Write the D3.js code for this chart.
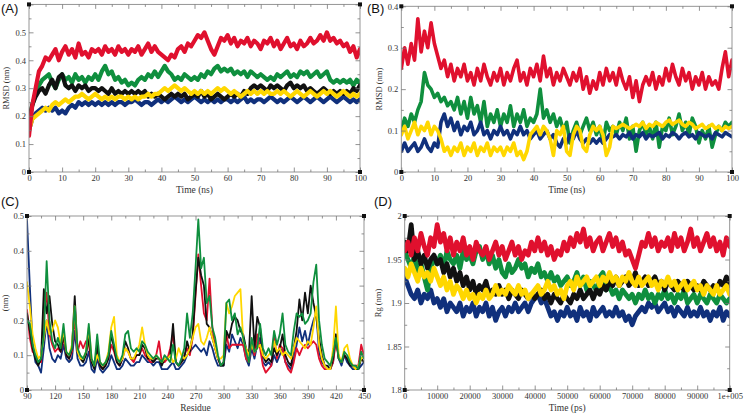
<!DOCTYPE html>
<html><head><meta charset="utf-8">
<script src="https://cdn.jsdelivr.net/npm/d3@7"></script>
<style>
body{margin:0;background:#fff;}
svg{display:block;}
.tk text{font-family:"Liberation Serif","DejaVu Serif",serif;font-size:8.5px;fill:#333;}
.tk path{display:none;}
.tk line{stroke:#777;stroke-width:0.8;}
</style></head>
<body><svg id="c" width="745" height="414"></svg>
<script>
// ---------- DATA ----------
const colors = {black:"#111111", red:"#e0102e", green:"#0f8f3e", blue:"#10307c", yellow:"#ffd700"};

// Panel A : RMSD (nm) vs time (ns), one value per ns 0..100
const timeA = d3.range(0, 101, 1);
const redA = [0.13,0.24,0.30,0.36,0.38,0.41,0.40,0.42,0.44,0.40,0.43,0.45,0.42,0.44,0.41,0.46,0.42,0.43,0.41,0.44,0.43,0.44,0.42,0.45,0.43,0.44,0.42,0.45,0.43,0.44,0.42,0.44,0.43,0.45,0.42,0.44,0.46,0.43,0.45,0.43,0.42,0.41,0.40,0.42,0.41,0.44,0.45,0.43,0.46,0.45,0.47,0.49,0.48,0.50,0.47,0.44,0.42,0.45,0.48,0.47,0.49,0.46,0.48,0.45,0.47,0.46,0.48,0.45,0.47,0.46,0.44,0.47,0.46,0.48,0.45,0.47,0.44,0.46,0.48,0.45,0.46,0.44,0.47,0.45,0.46,0.48,0.46,0.47,0.49,0.47,0.50,0.47,0.48,0.46,0.47,0.45,0.46,0.43,0.45,0.41,0.44];
const greenA = [0.18,0.24,0.28,0.31,0.33,0.34,0.35,0.32,0.30,0.33,0.35,0.33,0.34,0.32,0.35,0.33,0.34,0.32,0.34,0.33,0.35,0.33,0.36,0.38,0.35,0.36,0.33,0.34,0.32,0.33,0.31,0.32,0.31,0.33,0.34,0.33,0.35,0.34,0.36,0.34,0.36,0.38,0.36,0.35,0.33,0.34,0.33,0.35,0.34,0.33,0.34,0.33,0.35,0.34,0.36,0.35,0.37,0.38,0.36,0.37,0.36,0.37,0.35,0.36,0.35,0.36,0.34,0.36,0.35,0.34,0.35,0.34,0.33,0.34,0.33,0.35,0.34,0.35,0.36,0.34,0.35,0.34,0.36,0.35,0.36,0.34,0.35,0.36,0.34,0.35,0.36,0.33,0.32,0.33,0.32,0.33,0.32,0.33,0.31,0.33,0.32];
const blackA = [0.19,0.24,0.27,0.29,0.30,0.28,0.31,0.33,0.30,0.34,0.35,0.31,0.30,0.31,0.29,0.31,0.30,0.31,0.29,0.30,0.30,0.29,0.30,0.29,0.28,0.30,0.28,0.29,0.28,0.29,0.28,0.29,0.28,0.29,0.28,0.29,0.27,0.28,0.27,0.28,0.27,0.26,0.27,0.28,0.27,0.28,0.27,0.28,0.26,0.27,0.28,0.27,0.29,0.27,0.28,0.26,0.27,0.28,0.27,0.26,0.27,0.28,0.27,0.28,0.27,0.29,0.28,0.30,0.31,0.30,0.31,0.30,0.29,0.31,0.30,0.31,0.30,0.29,0.31,0.32,0.30,0.31,0.30,0.31,0.29,0.30,0.29,0.28,0.29,0.30,0.29,0.28,0.29,0.28,0.29,0.28,0.29,0.28,0.30,0.29,0.31];
const yellowA = [0.15,0.19,0.20,0.21,0.22,0.23,0.22,0.24,0.25,0.24,0.25,0.26,0.25,0.26,0.27,0.27,0.28,0.27,0.26,0.27,0.28,0.27,0.26,0.27,0.26,0.27,0.26,0.27,0.27,0.26,0.27,0.26,0.27,0.26,0.27,0.27,0.28,0.27,0.28,0.28,0.29,0.30,0.29,0.30,0.31,0.30,0.29,0.30,0.29,0.28,0.29,0.28,0.29,0.28,0.29,0.28,0.29,0.30,0.29,0.30,0.29,0.28,0.29,0.28,0.27,0.28,0.29,0.28,0.29,0.28,0.29,0.28,0.29,0.28,0.28,0.29,0.28,0.29,0.28,0.27,0.28,0.29,0.28,0.27,0.28,0.29,0.28,0.27,0.28,0.29,0.28,0.29,0.28,0.27,0.28,0.29,0.28,0.27,0.28,0.27,0.28];
const blueA = [0.15,0.19,0.21,0.22,0.23,0.22,0.23,0.22,0.23,0.21,0.22,0.21,0.23,0.24,0.23,0.25,0.24,0.25,0.24,0.25,0.24,0.25,0.24,0.25,0.24,0.25,0.24,0.25,0.25,0.24,0.25,0.25,0.26,0.25,0.24,0.25,0.25,0.24,0.25,0.26,0.25,0.26,0.25,0.26,0.27,0.26,0.25,0.26,0.25,0.26,0.27,0.26,0.25,0.26,0.25,0.26,0.25,0.26,0.25,0.26,0.26,0.25,0.26,0.25,0.26,0.27,0.25,0.26,0.25,0.26,0.26,0.25,0.26,0.27,0.26,0.25,0.26,0.25,0.26,0.27,0.26,0.25,0.26,0.27,0.26,0.25,0.26,0.27,0.26,0.25,0.26,0.27,0.26,0.25,0.26,0.27,0.26,0.25,0.26,0.25,0.26];

// Panel B : RMSD (nm) vs time (ns)
const timeB = d3.range(0, 101, 1);
const redB = [0.25,0.30,0.26,0.31,0.27,0.37,0.29,0.34,0.30,0.36,0.31,0.28,0.25,0.27,0.23,0.26,0.22,0.25,0.23,0.26,0.22,0.24,0.21,0.25,0.22,0.26,0.23,0.21,0.24,0.22,0.25,0.21,0.24,0.22,0.25,0.27,0.22,0.24,0.21,0.25,0.23,0.26,0.22,0.28,0.23,0.25,0.21,0.24,0.22,0.25,0.23,0.21,0.24,0.22,0.25,0.20,0.23,0.19,0.22,0.20,0.24,0.21,0.25,0.22,0.24,0.21,0.25,0.22,0.20,0.23,0.18,0.22,0.17,0.21,0.23,0.21,0.24,0.20,0.23,0.21,0.25,0.22,0.26,0.23,0.21,0.25,0.22,0.24,0.20,0.23,0.21,0.24,0.20,0.23,0.21,0.22,0.20,0.25,0.29,0.23,0.27];
const greenB = [0.10,0.13,0.11,0.14,0.12,0.15,0.17,0.24,0.21,0.20,0.18,0.19,0.17,0.18,0.16,0.17,0.15,0.18,0.14,0.17,0.13,0.18,0.14,0.16,0.12,0.17,0.11,0.14,0.12,0.15,0.11,0.14,0.12,0.16,0.11,0.14,0.12,0.15,0.11,0.13,0.12,0.14,0.20,0.13,0.15,0.12,0.14,0.11,0.13,0.10,0.12,0.07,0.10,0.12,0.09,0.11,0.13,0.10,0.12,0.09,0.11,0.07,0.12,0.10,0.11,0.09,0.12,0.10,0.13,0.08,0.11,0.05,0.10,0.12,0.09,0.11,0.08,0.12,0.06,0.11,0.10,0.13,0.09,0.11,0.14,0.10,0.12,0.09,0.13,0.11,0.07,0.10,0.08,0.11,0.06,0.09,0.11,0.10,0.12,0.11,0.12];
const blueB = [0.05,0.07,0.05,0.06,0.07,0.05,0.06,0.08,0.06,0.05,0.07,0.06,0.12,0.14,0.11,0.13,0.10,0.12,0.09,0.11,0.10,0.12,0.09,0.10,0.12,0.09,0.10,0.08,0.10,0.09,0.11,0.09,0.10,0.08,0.10,0.09,0.11,0.09,0.10,0.08,0.09,0.10,0.08,0.09,0.10,0.08,0.09,0.07,0.06,0.08,0.07,0.09,0.08,0.10,0.08,0.07,0.08,0.07,0.08,0.07,0.08,0.07,0.08,0.09,0.085,0.09,0.08,0.09,0.085,0.095,0.08,0.09,0.085,0.095,0.08,0.09,0.085,0.09,0.095,0.08,0.09,0.085,0.095,0.09,0.08,0.09,0.095,0.085,0.09,0.08,0.095,0.09,0.085,0.09,0.08,0.095,0.09,0.085,0.095,0.09,0.085];
const yellowB = [0.09,0.11,0.08,0.10,0.12,0.09,0.11,0.10,0.12,0.09,0.11,0.10,0.08,0.05,0.06,0.04,0.06,0.05,0.07,0.04,0.06,0.05,0.07,0.04,0.06,0.05,0.07,0.04,0.06,0.05,0.06,0.04,0.06,0.05,0.07,0.04,0.05,0.03,0.05,0.09,0.10,0.11,0.09,0.11,0.10,0.08,0.04,0.10,0.09,0.11,0.05,0.04,0.09,0.11,0.10,0.06,0.05,0.09,0.11,0.10,0.11,0.09,0.04,0.06,0.11,0.105,0.11,0.115,0.11,0.105,0.11,0.115,0.11,0.12,0.105,0.115,0.11,0.12,0.115,0.11,0.12,0.125,0.115,0.12,0.125,0.115,0.11,0.12,0.115,0.105,0.11,0.115,0.105,0.11,0.115,0.105,0.11,0.10,0.11,0.105,0.11];

// Panel C : RMSF (nm) per residue, every 3rd residue 90..450
const residues = d3.range(90, 451, 3);
const greenC = [0.20,0.19,0.13,0.10,0.08,0.09,0.16,0.37,0.20,0.14,0.12,0.15,0.12,0.19,0.11,0.10,0.12,0.24,0.12,0.10,0.09,0.11,0.19,0.09,0.07,0.16,0.08,0.07,0.08,0.10,0.17,0.13,0.09,0.08,0.10,0.16,0.17,0.12,0.11,0.12,0.11,0.14,0.13,0.11,0.10,0.09,0.10,0.09,0.08,0.10,0.09,0.08,0.13,0.08,0.07,0.09,0.12,0.22,0.15,0.22,0.35,0.49,0.35,0.38,0.25,0.27,0.18,0.15,0.10,0.07,0.08,0.25,0.26,0.20,0.22,0.16,0.18,0.15,0.11,0.08,0.15,0.11,0.12,0.19,0.12,0.10,0.12,0.10,0.17,0.13,0.16,0.22,0.13,0.11,0.10,0.17,0.22,0.21,0.22,0.19,0.20,0.22,0.31,0.36,0.20,0.13,0.09,0.08,0.07,0.10,0.15,0.09,0.08,0.11,0.10,0.08,0.07,0.07,0.06,0.11,0.09];
const blackC = [0.22,0.17,0.12,0.09,0.07,0.09,0.29,0.22,0.27,0.19,0.14,0.13,0.11,0.16,0.10,0.09,0.12,0.27,0.11,0.09,0.08,0.10,0.15,0.08,0.06,0.13,0.07,0.06,0.07,0.09,0.16,0.12,0.08,0.07,0.09,0.14,0.12,0.09,0.09,0.10,0.10,0.13,0.12,0.09,0.09,0.08,0.09,0.09,0.07,0.09,0.09,0.10,0.19,0.08,0.07,0.08,0.09,0.14,0.11,0.16,0.28,0.38,0.33,0.30,0.19,0.18,0.15,0.12,0.09,0.07,0.07,0.17,0.15,0.19,0.21,0.20,0.17,0.16,0.12,0.10,0.27,0.12,0.21,0.18,0.10,0.08,0.09,0.08,0.12,0.10,0.12,0.16,0.10,0.08,0.07,0.12,0.17,0.26,0.20,0.28,0.22,0.30,0.25,0.21,0.15,0.10,0.07,0.07,0.06,0.09,0.16,0.09,0.08,0.10,0.09,0.07,0.07,0.06,0.06,0.09,0.08];
const redC = [0.23,0.15,0.11,0.10,0.08,0.08,0.22,0.28,0.16,0.13,0.11,0.12,0.11,0.15,0.10,0.09,0.11,0.21,0.11,0.14,0.12,0.14,0.13,0.08,0.07,0.12,0.07,0.06,0.08,0.09,0.13,0.11,0.08,0.07,0.09,0.12,0.11,0.09,0.08,0.10,0.10,0.12,0.10,0.09,0.08,0.08,0.10,0.14,0.08,0.08,0.09,0.12,0.16,0.08,0.07,0.08,0.10,0.12,0.10,0.15,0.27,0.39,0.30,0.22,0.20,0.32,0.18,0.12,0.09,0.07,0.08,0.16,0.12,0.13,0.13,0.13,0.13,0.13,0.09,0.08,0.14,0.10,0.16,0.12,0.07,0.05,0.06,0.07,0.16,0.09,0.13,0.12,0.08,0.06,0.05,0.08,0.12,0.10,0.12,0.13,0.12,0.13,0.14,0.13,0.09,0.07,0.06,0.06,0.06,0.08,0.14,0.09,0.08,0.10,0.09,0.08,0.07,0.07,0.07,0.13,0.10];
const blueC = [0.49,0.30,0.13,0.08,0.07,0.05,0.12,0.20,0.12,0.09,0.08,0.10,0.09,0.13,0.09,0.08,0.09,0.17,0.09,0.07,0.07,0.08,0.11,0.06,0.05,0.09,0.06,0.05,0.06,0.07,0.10,0.08,0.06,0.06,0.07,0.09,0.08,0.07,0.07,0.08,0.08,0.10,0.09,0.08,0.08,0.07,0.08,0.08,0.06,0.06,0.06,0.07,0.08,0.06,0.06,0.07,0.08,0.10,0.11,0.12,0.13,0.12,0.11,0.12,0.10,0.14,0.12,0.09,0.07,0.07,0.07,0.13,0.11,0.16,0.14,0.12,0.15,0.13,0.09,0.07,0.12,0.09,0.13,0.15,0.08,0.07,0.08,0.07,0.10,0.08,0.10,0.12,0.08,0.07,0.06,0.09,0.13,0.18,0.14,0.17,0.13,0.17,0.20,0.22,0.11,0.08,0.07,0.06,0.06,0.08,0.16,0.09,0.07,0.10,0.08,0.07,0.06,0.06,0.06,0.07,0.08];
const yellowC = [0.31,0.24,0.16,0.12,0.09,0.10,0.15,0.20,0.16,0.17,0.20,0.18,0.13,0.17,0.11,0.10,0.13,0.24,0.11,0.09,0.09,0.11,0.18,0.09,0.07,0.10,0.08,0.07,0.08,0.11,0.18,0.21,0.10,0.08,0.09,0.12,0.11,0.09,0.09,0.11,0.13,0.18,0.13,0.10,0.09,0.09,0.10,0.09,0.08,0.09,0.09,0.10,0.08,0.09,0.12,0.10,0.09,0.10,0.12,0.15,0.18,0.19,0.14,0.13,0.15,0.18,0.15,0.12,0.09,0.09,0.10,0.25,0.22,0.24,0.27,0.28,0.29,0.14,0.12,0.10,0.13,0.11,0.12,0.13,0.10,0.09,0.10,0.11,0.14,0.11,0.12,0.10,0.11,0.10,0.09,0.12,0.15,0.14,0.13,0.12,0.14,0.13,0.18,0.24,0.13,0.09,0.07,0.06,0.06,0.12,0.24,0.10,0.08,0.12,0.13,0.09,0.07,0.06,0.07,0.09,0.10];

// Panel D : Rg (nm) vs time (ps), one value per 1000 ps
const timeD = d3.range(0, 100001, 1000);
const redD = [1.96,1.97,1.955,1.975,1.96,1.98,1.965,1.955,1.975,1.965,1.99,1.97,1.98,1.96,1.975,1.955,1.97,1.96,1.975,1.955,1.965,1.95,1.97,1.96,1.955,1.965,1.95,1.96,1.97,1.955,1.965,1.95,1.96,1.97,1.955,1.965,1.95,1.96,1.955,1.97,1.96,1.975,1.96,1.97,1.955,1.965,1.95,1.96,1.955,1.97,1.96,1.975,1.965,1.98,1.97,1.985,1.965,1.975,1.96,1.97,1.975,1.96,1.97,1.98,1.965,1.975,1.96,1.97,1.955,1.96,1.95,1.94,1.955,1.97,1.965,1.98,1.965,1.975,1.96,1.97,1.965,1.975,1.96,1.98,1.965,1.975,1.96,1.97,1.985,1.965,1.975,1.96,1.97,1.98,1.965,1.975,1.96,1.97,1.955,1.975,1.965];
const greenD = [1.96,1.95,1.94,1.955,1.935,1.945,1.93,1.915,1.94,1.95,1.945,1.955,1.94,1.96,1.95,1.945,1.955,1.94,1.96,1.95,1.955,1.945,1.96,1.965,1.95,1.96,1.945,1.955,1.94,1.95,1.935,1.93,1.945,1.935,1.94,1.95,1.94,1.945,1.93,1.94,1.935,1.945,1.93,1.935,1.925,1.935,1.925,1.93,1.92,1.925,1.93,1.92,1.925,1.935,1.92,1.93,1.915,1.925,1.92,1.915,1.93,1.935,1.915,1.92,1.91,1.915,1.905,1.915,1.91,1.905,1.91,1.90,1.91,1.905,1.915,1.905,1.91,1.90,1.91,1.905,1.915,1.905,1.91,1.90,1.91,1.905,1.915,1.90,1.905,1.91,1.90,1.91,1.905,1.90,1.91,1.905,1.90,1.91,1.905,1.90,1.905];
const blackD = [1.97,1.96,1.99,1.95,1.96,1.945,1.955,1.94,1.95,1.955,1.945,1.95,1.935,1.945,1.93,1.94,1.925,1.935,1.92,1.93,1.915,1.925,1.91,1.92,1.915,1.925,1.91,1.915,1.91,1.92,1.91,1.915,1.905,1.915,1.91,1.905,1.915,1.91,1.905,1.91,1.905,1.91,1.915,1.905,1.91,1.90,1.91,1.905,1.90,1.91,1.905,1.90,1.91,1.905,1.915,1.905,1.91,1.915,1.905,1.915,1.91,1.92,1.915,1.925,1.92,1.93,1.92,1.925,1.93,1.92,1.925,1.935,1.92,1.925,1.93,1.92,1.925,1.93,1.92,1.925,1.915,1.925,1.92,1.915,1.925,1.92,1.915,1.925,1.92,1.915,1.92,1.915,1.925,1.92,1.915,1.92,1.915,1.925,1.92,1.93,1.92];
const yellowD = [1.94,1.93,1.945,1.935,1.925,1.94,1.93,1.935,1.925,1.94,1.93,1.92,1.93,1.915,1.925,1.91,1.92,1.915,1.905,1.915,1.905,1.91,1.90,1.91,1.905,1.915,1.905,1.91,1.92,1.91,1.915,1.91,1.92,1.915,1.91,1.92,1.91,1.915,1.905,1.91,1.915,1.92,1.91,1.915,1.925,1.915,1.92,1.91,1.915,1.905,1.92,1.925,1.915,1.93,1.92,1.925,1.93,1.92,1.925,1.93,1.92,1.93,1.925,1.935,1.925,1.93,1.92,1.93,1.925,1.935,1.925,1.92,1.93,1.92,1.925,1.93,1.92,1.925,1.915,1.925,1.92,1.93,1.92,1.925,1.915,1.92,1.925,1.915,1.92,1.925,1.915,1.92,1.91,1.92,1.915,1.91,1.92,1.91,1.915,1.92,1.91];
const blueD = [1.93,1.92,1.91,1.905,1.915,1.90,1.91,1.905,1.915,1.90,1.905,1.895,1.905,1.89,1.90,1.895,1.89,1.90,1.885,1.895,1.89,1.90,1.885,1.895,1.89,1.90,1.885,1.895,1.88,1.89,1.895,1.885,1.895,1.89,1.90,1.89,1.895,1.90,1.89,1.90,1.905,1.91,1.90,1.905,1.895,1.885,1.89,1.88,1.89,1.885,1.895,1.885,1.89,1.88,1.895,1.885,1.89,1.88,1.895,1.885,1.89,1.895,1.885,1.89,1.885,1.895,1.885,1.89,1.88,1.885,1.875,1.885,1.89,1.895,1.89,1.90,1.895,1.90,1.89,1.895,1.90,1.89,1.895,1.885,1.895,1.89,1.885,1.895,1.885,1.89,1.885,1.895,1.885,1.89,1.88,1.89,1.885,1.895,1.88,1.89,1.885];

// Tick labels
const ticksA_x = [0,10,20,30,40,50,60,70,80,90,100];
const ticksA_y = [0,0.1,0.2,0.3,0.4,0.5];
const ticksB_y = [0,0.1,0.2,0.3,0.4];
const ticksC_x = [90,120,150,180,210,240,270,300,330,360,390,420,450];
const ticksC_y = [0,0.1,0.2,0.3,0.4,0.5];
const ticksD_x = [0,10000,20000,30000,40000,50000,60000,70000,80000,90000,100000];
const labelsD_x = ["0","10000","20000","30000","40000","50000","60000","70000","80000","90000","1e+005"];
const ticksD_y = [1.8,1.85,1.9,1.95,2];
const labelsD_y = ["1.8","1.85","1.9","1.95","2"];

// ---------- DRAWING ----------
const svg = d3.select("#c");

function panel(o){
  const x = d3.scaleLinear().domain(o.xd).range([o.l, o.r]);
  const y = d3.scaleLinear().domain(o.yd).range([o.b, o.t]);
  const g = svg.append("g");
  const cid = "clip" + o.id;
  svg.append("clipPath").attr("id", cid).append("rect")
     .attr("x", o.l).attr("y", o.t).attr("width", o.r - o.l).attr("height", o.b - o.t);
  const lg = g.append("g").attr("clip-path", `url(#${cid})`);
  const line = d3.line().x((d,i)=>x(o.xs[i])).y(d=>y(d));
  o.series.forEach(s=>{
    lg.append("path").datum(s.v).attr("d", line)
      .attr("fill","none").attr("stroke", colors[s.c])
      .attr("stroke-width", o.sw).attr("stroke-linejoin","round").attr("stroke-linecap","round");
  });
  g.append("rect").attr("x", o.l).attr("y", o.t).attr("width", o.r-o.l).attr("height", o.b-o.t)
    .attr("fill","none").attr("stroke","#8a8a8a").attr("stroke-width",0.9);
  const fmtX = o.fx || (d=>String(d));
  const fmtY = o.fy || (d=>String(d));
  g.append("g").attr("class","tk").attr("transform",`translate(0,${o.b})`)
   .call(d3.axisBottom(x).tickValues(o.xt).tickSize(-4.5).tickPadding(3).tickFormat(fmtX));
  g.append("g").attr("class","tk").attr("transform",`translate(0,${o.t})`)
   .call(d3.axisTop(x).tickValues(o.xt).tickSize(-4.5).tickFormat(""));
  g.append("g").attr("class","tk").attr("transform",`translate(${o.l},0)`)
   .call(d3.axisLeft(y).tickValues(o.yt).tickSize(-4.5).tickPadding(3).tickFormat(fmtY));
  g.append("g").attr("class","tk").attr("transform",`translate(${o.r},0)`)
   .call(d3.axisRight(y).tickValues(o.yt).tickSize(-4.5).tickFormat(""));
  [["axisBottom",o.b],["axisTop",o.t]].forEach(([a,p])=>{
    g.append("g").attr("class","tk").attr("transform",`translate(0,${p})`)
     .call(d3[a](x).tickValues(o.xm).tickSize(-2.5).tickFormat(""));
  });
  [["axisLeft",o.l],["axisRight",o.r]].forEach(([a,p])=>{
    g.append("g").attr("class","tk").attr("transform",`translate(${p},0)`)
     .call(d3[a](y).tickValues(o.ym).tickSize(-2.5).tickFormat(""));
  });
  [[o.l,o.t],[o.r,o.t],[o.l,o.b],[o.r,o.b]].forEach(([cx,cy])=>{
    g.append("rect").attr("x",cx-2).attr("y",cy-2).attr("width",4).attr("height",4).attr("fill","#111");
  });
  g.append("text").attr("x",(o.l+o.r)/2).attr("y",o.b+21).attr("text-anchor","middle")
   .attr("font-family","Liberation Serif, serif").attr("font-size",9.5).attr("fill","#333").text(o.xl);
  g.append("text").attr("transform",`translate(${o.ylx},${(o.t+o.b)/2}) rotate(-90)`)
   .attr("text-anchor","middle").attr("font-family","Liberation Serif, serif").attr("font-size",8.5).attr("fill","#333").text(o.yl);
  g.append("text").attr("x",o.px).attr("y",o.py).attr("font-family","Liberation Sans, Arial, sans-serif")
   .attr("font-size",13).attr("fill","#111").text(o.pl);
}

const halves = (arr, step)=>arr.slice(0,-1).map(v=>v+step/2);

panel({id:"A", l:29, r:360, t:4.4, b:172, xd:[0,100], yd:[0,0.6],
  xs:timeA, sw:4.2,
  series:[{c:"blue",v:blueA},{c:"green",v:greenA},{c:"black",v:blackA},{c:"yellow",v:yellowA},{c:"red",v:redA}],
  xt:ticksA_x, xm:halves(ticksA_x,10), yt:[...ticksA_y,0.6], ym:[0.05,0.15,0.25,0.35,0.45,0.55],
  fy:d=>d===0.6?"":String(d),
  xl:"Time (ns)", yl:"RMSD (nm)", ylx:9, pl:"(A)", px:1, py:13});

panel({id:"B", l:401.3, r:732, t:6.3, b:172, xd:[0,100], yd:[0,0.4],
  xs:timeB, sw:3.6,
  series:[{c:"red",v:redB},{c:"green",v:greenB},{c:"blue",v:blueB},{c:"yellow",v:yellowB}],
  xt:ticksA_x, xm:halves(ticksA_x,10), yt:ticksB_y, ym:[0.05,0.15,0.25,0.35],
  xl:"Time (ns)", yl:"RMSD (nm)", ylx:382, pl:"(B)", px:367, py:13});

panel({id:"C", l:27, r:364, t:216, b:390, xd:[90,450], yd:[0,0.5],
  xs:residues, sw:1.8,
  series:[{c:"blue",v:blueC},{c:"red",v:redC},{c:"black",v:blackC},{c:"yellow",v:yellowC},{c:"green",v:greenC}],
  xt:ticksC_x, xm:halves(ticksC_x,30), yt:ticksC_y, ym:[0.05,0.15,0.25,0.35,0.45],
  xl:"Residue", yl:"(nm)", ylx:8, pl:"(C)", px:1, py:206});

panel({id:"D", l:404.7, r:729.7, t:216, b:390, xd:[0,100000], yd:[1.8,2],
  xs:timeD, sw:4.8,
  series:[{c:"blue",v:blueD},{c:"green",v:greenD},{c:"black",v:blackD},{c:"yellow",v:yellowD},{c:"red",v:redD}],
  xt:ticksD_x, xm:halves(ticksD_x,10000), yt:ticksD_y, ym:[1.825,1.875,1.925,1.975],
  fx:(d,i)=>labelsD_x[i], fy:(d,i)=>labelsD_y[i],
  xl:"Time (ps)", yl:"Rg (nm)", ylx:381, pl:"(D)", px:374, py:206});
</script></body></html>
